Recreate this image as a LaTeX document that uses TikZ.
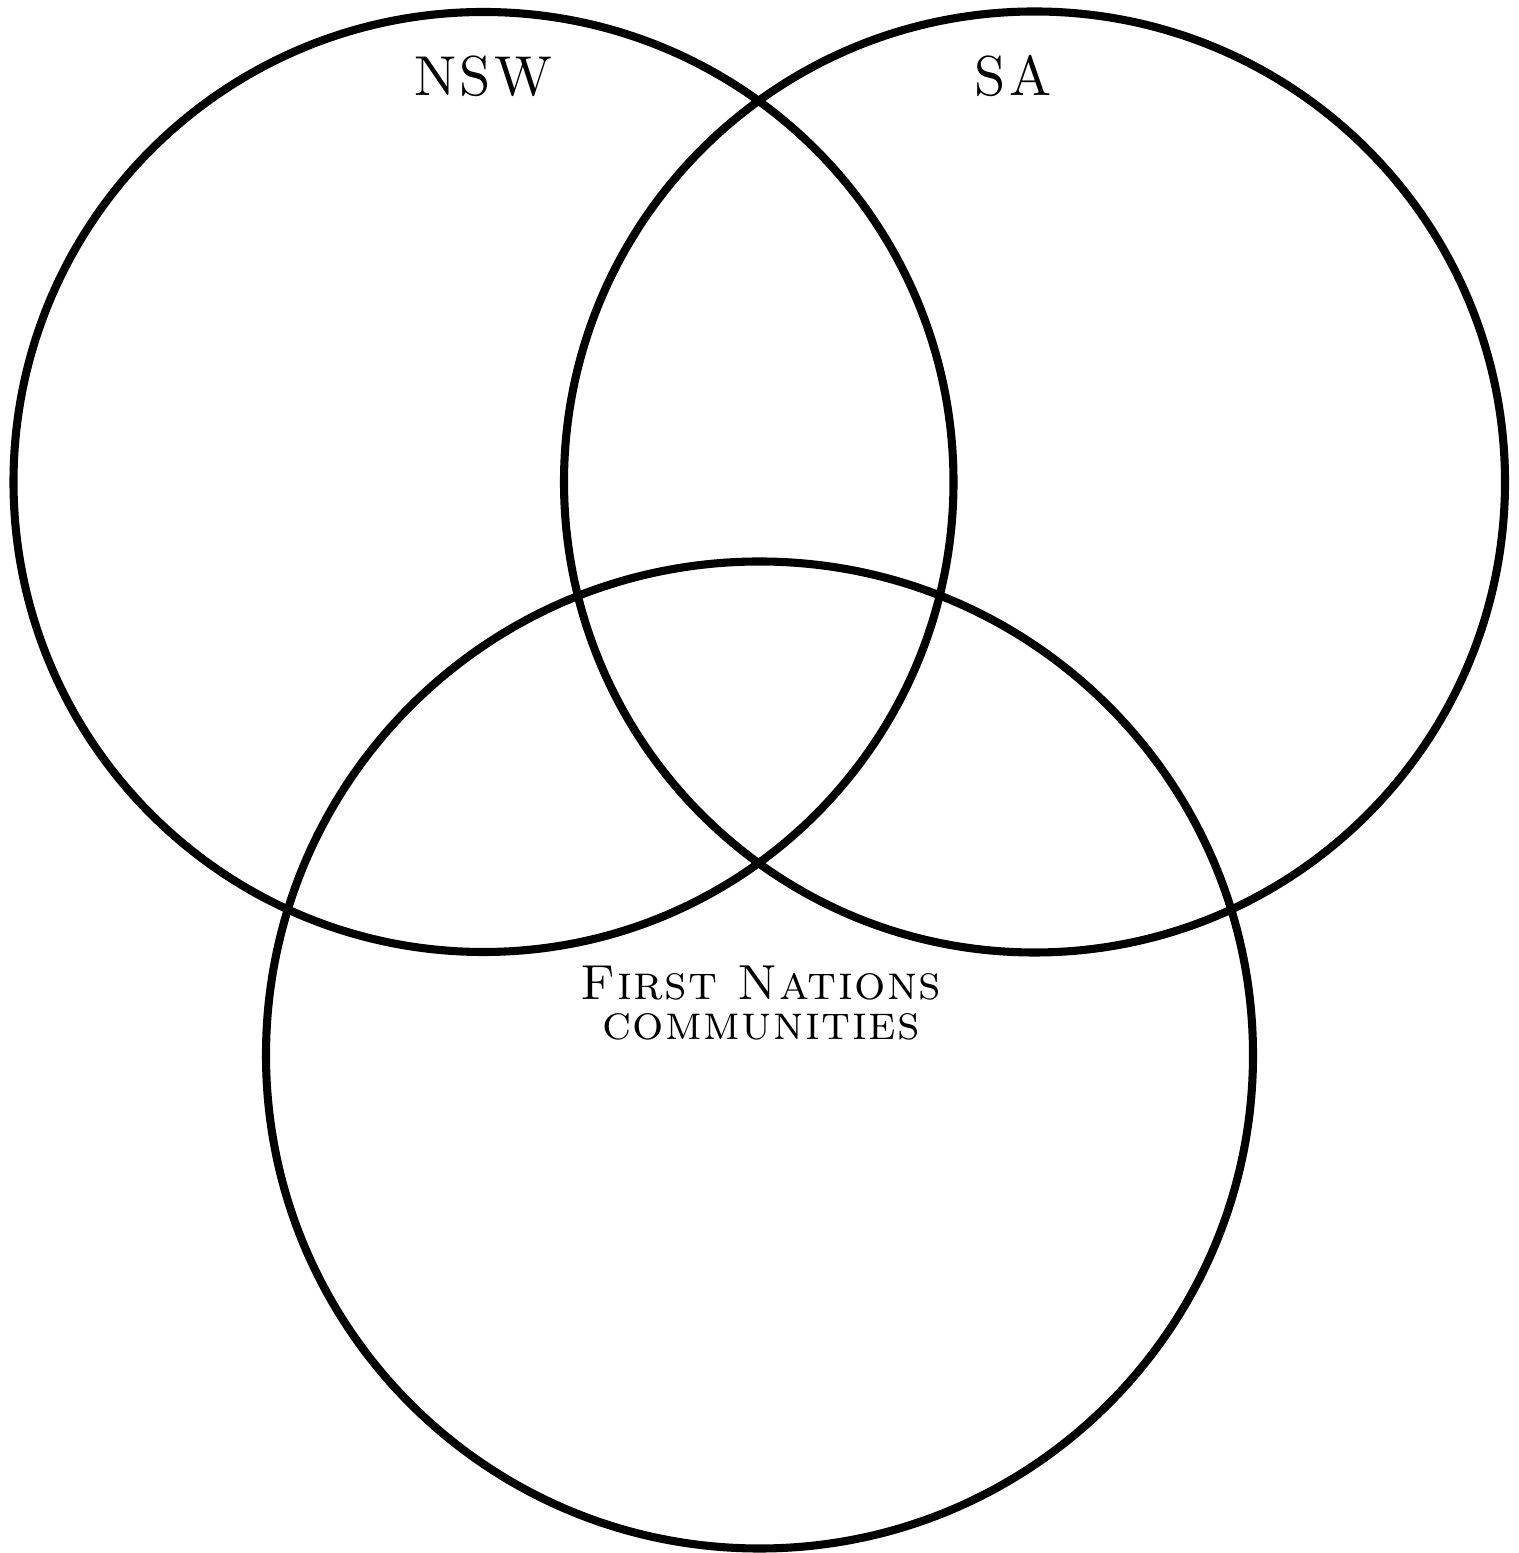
\documentclass[tikz,border=0pt]{standalone}
\usepackage{fontspec}
\setmainfont{lmroman10-regular}[Extension=.otf,
  BoldFont=lmroman10-bold,
  SmallCapsFont=lmromancaps10-regular]
\usepackage{xcolor}

\begin{document}
\begin{tikzpicture}[x=1cm,y=1cm,
  ring/.style={draw=black,circle,line width=2.3pt,inner sep=0pt},
  lab/.style={inner sep=0pt,font=\fontsize{16}{19}\selectfont\addfontfeature{LetterSpace=6}},
  grp/.style={inner sep=0pt,align=center,
    font=\fontsize{14}{11.4}\selectfont\scshape\addfontfeature{LetterSpace=3}}]
  \useasboundingbox (0,0) rectangle (15.19,15.53);
  % three sets
  \node[ring,minimum size=9.40cm] (nsw) at ( 4.835,10.71) {};
  \node[ring,minimum size=9.41cm] (sa)  at (10.345,10.71) {};
  \node[ring,minimum size=9.87cm] (fn)  at ( 7.595, 4.98) {};
  % set names
  \node[lab] (nswlab) at ( 4.83,14.765) {NSW};
  \node[lab] (salab)  at (10.13,14.765) {SA};
  \node[grp] (fnlab)  at ( 7.61, 5.50) {First Nations\\communities};
\end{tikzpicture}
\end{document}
